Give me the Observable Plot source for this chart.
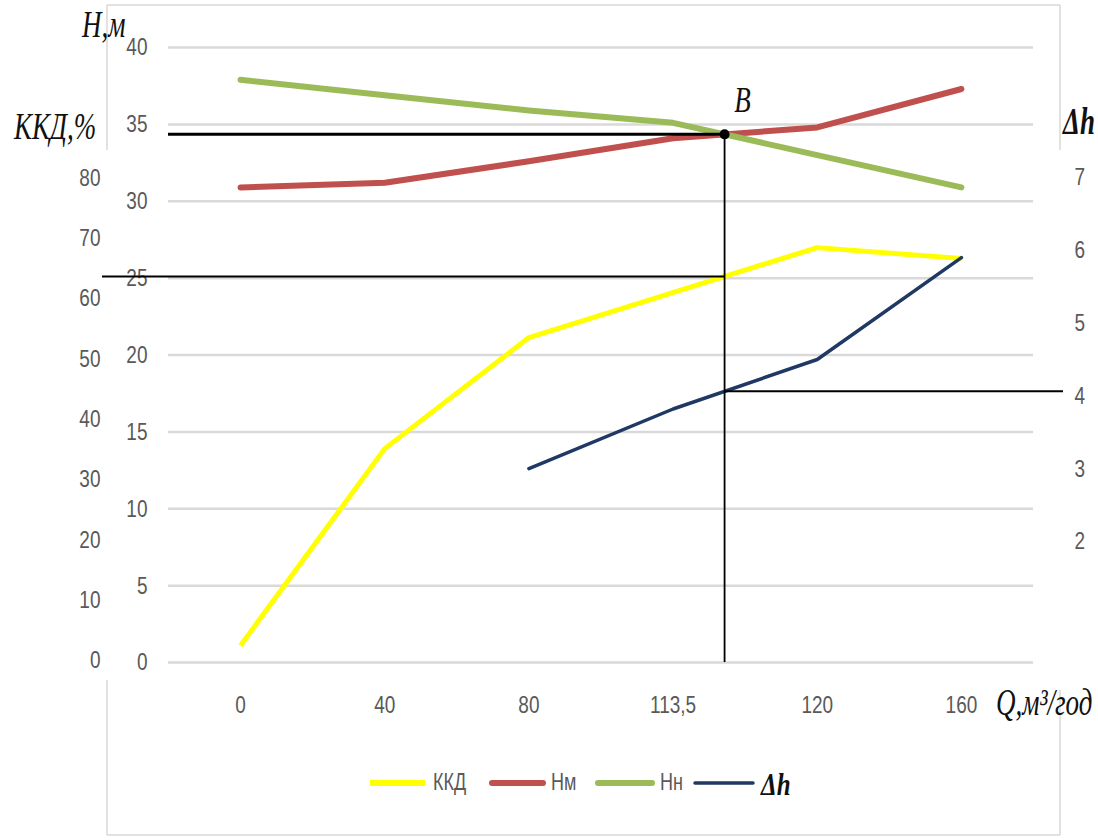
<!DOCTYPE html>
<html>
<head>
<meta charset="utf-8">
<script src="https://cdn.jsdelivr.net/npm/d3@7"></script>
<script src="https://cdn.jsdelivr.net/npm/@observablehq/plot@0.6"></script>
<style>
  html, body { margin: 0; padding: 0; background: #fff; }
  #chart { width: 1098px; height: 840px; }
</style>
</head>
<body>
<div id="chart"></div>
<script>
// Flow rate categories Q, м³/год (category axis, evenly spaced)
const categories = ["0", "40", "80", "113,5", "120", "160"];
// Head of the pump, м
const headPump = [30.9, 31.2, 32.6, 34.1, 34.8, 37.3];
// Head required by the network, м
const headNet = [37.9, 36.9, 35.9, 35.1, 33.0, 30.9];
// Pump efficiency, %
const efficiency = [2.5, 35.1, 53.5, null, 68.4, 66.6];
// Required cavitation reserve Δh, м
const reserveDh = [null, null, 3.0, 3.82, 4.5, 5.9];

const headTicks = [0, 5, 10, 15, 20, 25, 30, 35, 40];
const efficiencyTicks = [0, 10, 20, 30, 40, 50, 60, 70, 80];
const dhTicks = [2, 3, 4, 5, 6, 7];

// Secondary axes expressed in head units so everything shares one y scale
const effToH = d3.scaleLinear([0, 100], [0.13, 39.39]);
const dhToH = d3.scaleLinear([0, 10], [-1.6, 45.75]);

const rows = categories.map((c, i) => ({
  i, q: c,
  hm: headPump[i], hn: headNet[i], eff: efficiency[i], dh: reserveDh[i]
}));

// Linear interpolation along a series at a fractional category position
function interp(values, x) {
  const pts = values.map((v, i) => [i, v]).filter(p => p[1] != null);
  for (let k = 0; k < pts.length - 1; k++) {
    const [x0, y0] = pts[k], [x1, y1] = pts[k + 1];
    if (x >= x0 && x <= x1) return y0 + (y1 - y0) * (x - x0) / (x1 - x0);
  }
  return null;
}

// Operating point B: where the pump head curve crosses the network curve
let B = null;
for (let i = 0; i < categories.length - 1; i++) {
  const d0 = headPump[i] - headNet[i], d1 = headPump[i + 1] - headNet[i + 1];
  if (d0 <= 0 && d1 > 0) {
    const t = d0 / (d0 - d1);
    B = {x: i + t, h: headPump[i] + t * (headPump[i + 1] - headPump[i])};
    break;
  }
}
const effB = interp(efficiency, B.x);
const dhB = interp(reserveDh, B.x);

const W = 1098, H = 840;
const mL = 168, mR = 65, mT = 47, mB = 178;
const step = (W - mL - mR) / categories.length;

const tickStyle = {fill: "#595959", fontSize: 19, label: null};
const serif = "'Liberation Serif', 'Times New Roman', serif";

const chart = Plot.plot({
  width: W, height: H,
  marginLeft: mL, marginRight: mR, marginTop: mT, marginBottom: mB,
  style: {fontFamily: "'Liberation Sans', Arial, sans-serif", fontSize: "19px", background: "white", overflow: "visible"},
  x: {domain: [-0.5, categories.length - 0.5], axis: null},
  y: {domain: [0, 40], axis: null},
  marks: [
    Plot.gridY(headTicks, {stroke: "#d9d9d9", strokeWidth: 2.5, strokeOpacity: 1}),
    Plot.axisY(headTicks, {anchor: "left", tickSize: 0, tickPadding: 21, ...tickStyle}),
    Plot.axisY(efficiencyTicks.map(effToH), {
      anchor: "left", tickSize: 0, tickPadding: 68,
      tickFormat: v => Math.round(effToH.invert(v)), ...tickStyle
    }),
    Plot.axisY(dhTicks.map(dhToH), {
      anchor: "right", tickSize: 0, tickPadding: 41,
      tickFormat: v => Math.round(dhToH.invert(v)), ...tickStyle
    }),
    Plot.axisX(d3.range(categories.length), {
      anchor: "bottom", tickSize: 0, tickPadding: 33,
      tickFormat: i => categories[i], ...tickStyle
    }),
    Plot.line(rows.filter(d => d.eff != null), {x: "i", y: d => effToH(d.eff), stroke: "#ffff00", strokeWidth: 5, strokeLinecap: "butt"}),
    Plot.line(rows, {x: "i", y: "hm", stroke: "#c0504d", strokeWidth: 6}),
    Plot.line(rows, {x: "i", y: "hn", stroke: "#9bbb59", strokeWidth: 6}),
    Plot.line(rows.filter(d => d.dh != null), {x: "i", y: d => dhToH(d.dh), stroke: "#1f3864", strokeWidth: 3.5}),
    // guide lines through the operating point
    Plot.ruleX([B], {x: "x", y1: 0, y2: "h", stroke: "black", strokeWidth: 1.8}),
    Plot.ruleY([B], {y: "h", x1: -0.5, x2: "x", stroke: "black", strokeWidth: 3}),
    Plot.ruleY([B], {y: () => effToH(effB), x1: -0.5 - 66 / step, x2: "x", stroke: "black", strokeWidth: 2}),
    Plot.ruleY([B], {y: () => dhToH(dhB), x1: "x", x2: categories.length - 0.5 + 30 / step, stroke: "black", strokeWidth: 2}),
    Plot.dot([B], {x: "x", y: "h", r: 5, fill: "black"}),
    Plot.text([B], {x: "x", y: "h", text: () => "B", dx: 18, dy: -34, fontFamily: serif, fontStyle: "italic", fontSize: 27, fill: "#111"})
  ]
});

document.getElementById("chart").appendChild(chart);

// Tall, narrow lettering
chart.querySelectorAll("text").forEach(t => {
  const tr = t.getAttribute("transform");
  if (tr) t.setAttribute("transform", tr + " scale(1,1.3)");
  else {
    const x = +t.getAttribute("x") || 0, y = +t.getAttribute("y") || 0;
    t.removeAttribute("x"); t.removeAttribute("y");
    t.setAttribute("transform", `translate(${x},${y}) scale(1,1.3)`);
  }
});

const svg = d3.select(chart);

// Outer chart border (interrupted by the side axis labels)
const frame = svg.append("g").attr("stroke", "#d9d9d9").attr("stroke-width", 1.5);
[[107, 5, 1060, 5], [107, 835, 1060, 835],
 [107, 5, 107, 150], [107, 680, 107, 835],
 [1060, 5, 1060, 150], [1060, 690, 1060, 835]]
  .forEach(([x1, y1, x2, y2]) => frame.append("line").attr("x1", x1).attr("y1", y1).attr("x2", x2).attr("y2", y2));

// Axis titles
function title(txt, x, y, opts = {}) {
  svg.append("text")
    .attr("transform", `translate(${x},${y}) scale(1,${opts.sy || 1.38})`)
    .attr("text-anchor", "start")
    .attr("font-family", opts.family || serif)
    .attr("font-style", opts.style || "italic")
    .attr("font-weight", opts.weight || "normal")
    .attr("font-size", opts.size || 27)
    .attr("fill", opts.fill || "#111")
    .text(txt);
}
title("H,м", 82, 37);
title("ККД,%", 14, 139);
title("Δh", 1063, 134, {weight: "bold"});
title("Q,м³/год", 996, 715);

// Legend
const legend = [
  {label: "ККД", color: "#ffff00", x: 370, w: 6, cap: "butt"},
  {label: "Нм", color: "#c0504d", x: 492, w: 6, cap: "round"},
  {label: "Нн", color: "#9bbb59", x: 598, w: 6, cap: "round"},
  {label: "Δh", color: "#1f3864", x: 695, w: 3.5, cap: "round"}
];
const swatchLen = [55, 51, 54, 58];
legend.forEach((d, k) => {
  svg.append("line")
    .attr("x1", d.x).attr("x2", d.x + swatchLen[k]).attr("y1", 783).attr("y2", 783)
    .attr("stroke", d.color).attr("stroke-width", d.w).attr("stroke-linecap", d.cap);
  const tx = d.x + swatchLen[k] + 8;
  if (d.label === "Δh") title("Δh", tx, 795, {weight: "bold", size: 25, sy: 1.3});
  else title(d.label, tx, 790, {family: "'Liberation Sans', Arial, sans-serif", style: "normal", size: 18, fill: "#595959", sy: 1.3});
});
</script>
</body>
</html>
